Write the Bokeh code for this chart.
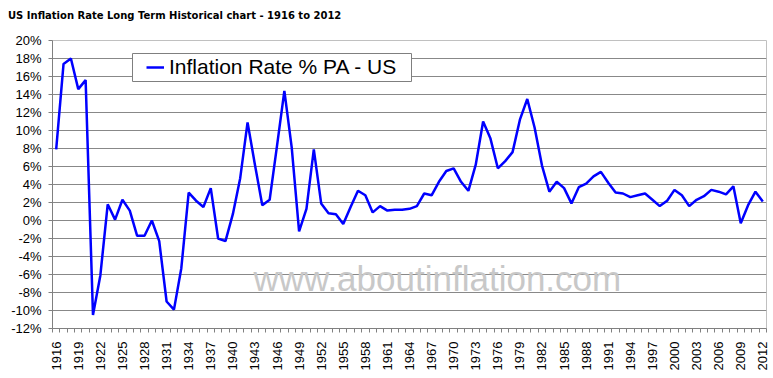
from math import pi
from bokeh.plotting import figure
from bokeh.layouts import column
from bokeh.models import (FixedTicker, PrintfTickFormatter, Legend, LegendItem,
                          BoxAnnotation, Label, Range1d, Div)
from bokeh.embed import file_html
from bokeh.resources import INLINE

# ---- data -------------------------------------------------------------
years = list(range(1916, 2013))
inflation = [
    7.9, 17.4, 18.0, 14.6, 15.6, -10.5, -6.1, 1.8, 0.1, 2.3,      # 1916-1925
    1.1, -1.7, -1.7, 0.0, -2.3, -9.0, -9.9, -5.3, 3.1, 2.2,        # 1926-1935
    1.5, 3.6, -2.0, -2.3, 0.7, 4.7, 10.9, 6.2, 1.7, 2.3,           # 1936-1945
    8.3, 14.4, 8.1, -1.2, 1.3, 7.9, 1.9, 0.8, 0.7, -0.4,           # 1946-1955
    1.5, 3.3, 2.8, 0.9, 1.6, 1.1, 1.2, 1.2, 1.3, 1.6,              # 1956-1965
    3.0, 2.8, 4.3, 5.5, 5.8, 4.3, 3.3, 6.2, 11.0, 9.1,             # 1966-1975
    5.8, 6.6, 7.6, 11.2, 13.5, 10.3, 6.1, 3.2, 4.3, 3.6,           # 1976-1985
    1.9, 3.7, 4.1, 4.9, 5.4, 4.2, 3.1, 3.0, 2.6, 2.8,              # 1986-1995
    3.0, 2.3, 1.6, 2.2, 3.4, 2.8, 1.6, 2.3, 2.7, 3.4,              # 1996-2005
    3.2, 2.9, 3.8, -0.3, 1.7, 3.2, 2.1,                            # 2006-2012
]
tick_years = years[::3]
y_ticks = list(range(-12, 21, 2))
grid_ticks = list(range(-10, 19, 2))
title_text = "US Inflation Rate Long Term Historical chart - 1916 to 2012"
series_name = "Inflation Rate % PA - US"
watermark = "www.aboutinflation.com"

# ---- title ------------------------------------------------------------
title_div = Div(text=title_text, width=773, height=22,
                styles={"font-family": "DejaVu Sans", "font-weight": "bold",
                        "font-size": "10px", "color": "#000000",
                        "padding-left": "3px", "padding-top": "5px",
                        "line-height": "normal", "white-space": "nowrap"})

# ---- figure -----------------------------------------------------------
p = figure(width=773, height=346, output_backend="svg", toolbar_location=None,
           x_range=Range1d(years[0] - 0.5, years[-1] + 0.5),
           y_range=Range1d(y_ticks[0], y_ticks[-1]),
           min_border_left=52, min_border_right=7, min_border_top=8,
           min_border_bottom=50, background_fill_color="white",
           border_fill_color="white", outline_line_color="#c0c0c0")

# grid
p.xgrid.visible = False
p.ygrid.ticker = FixedTicker(ticks=grid_ticks)
p.ygrid.grid_line_color = "#888888"
p.ygrid.grid_line_width = 1

# y axis
p.yaxis.ticker = FixedTicker(ticks=y_ticks)
p.yaxis.formatter = PrintfTickFormatter(format="%d%%")
p.yaxis.major_tick_in = 0
p.yaxis.major_tick_out = 4
p.yaxis.minor_tick_in = 0
p.yaxis.minor_tick_out = 0
p.yaxis.major_label_standoff = 7
p.yaxis.axis_line_color = "#808080"
p.yaxis.major_tick_line_color = "#808080"
p.yaxis.major_label_text_font = "Liberation Sans"
p.yaxis.major_label_text_font_size = "13px"
p.yaxis.major_label_text_color = "#000000"

# x axis
boundaries = [y - 0.5 for y in years] + [years[-1] + 0.5]
p.xaxis.ticker = FixedTicker(ticks=tick_years, minor_ticks=boundaries)
p.xaxis.major_tick_in = 0
p.xaxis.major_tick_out = 0
p.xaxis.minor_tick_in = 0
p.xaxis.minor_tick_out = 4
p.xaxis.minor_tick_line_color = "#808080"
p.xaxis.axis_line_color = "#808080"
p.xaxis.major_label_orientation = pi / 2
p.xaxis.major_label_standoff = 9
p.xaxis.major_label_text_font = "Liberation Sans"
p.xaxis.major_label_text_font_size = "13px"
p.xaxis.major_label_text_color = "#000000"

# watermark
p.add_layout(Label(x=201, y=50, x_units="screen", y_units="screen",
                   text=watermark, text_font="Liberation Sans",
                   text_font_size="35px", text_color="#c8c8c8",
                   text_baseline="alphabetic"))

# line
r = p.line(years, inflation, line_color="#0000FF", line_width=2.5)

# legend box + legend
p.add_layout(BoxAnnotation(left=80, right=359, top=275, bottom=247,
                           left_units="screen", right_units="screen",
                           top_units="screen", bottom_units="screen",
                           fill_color="white", fill_alpha=1.0,
                           line_color="#7f7f7f", line_width=1, line_alpha=1.0))
legend = Legend(items=[LegendItem(label=series_name, renderers=[r])],
                location=(94, 249), padding=0, margin=0,
                border_line_alpha=0, background_fill_alpha=0,
                label_text_font="Liberation Sans", label_text_font_size="21px",
                label_text_color="#000000",
                glyph_width=18, glyph_height=20, label_standoff=5)
p.add_layout(legend)

page = column(title_div, p, spacing=0)
open("out.html", "w").write(file_html(page, INLINE))
